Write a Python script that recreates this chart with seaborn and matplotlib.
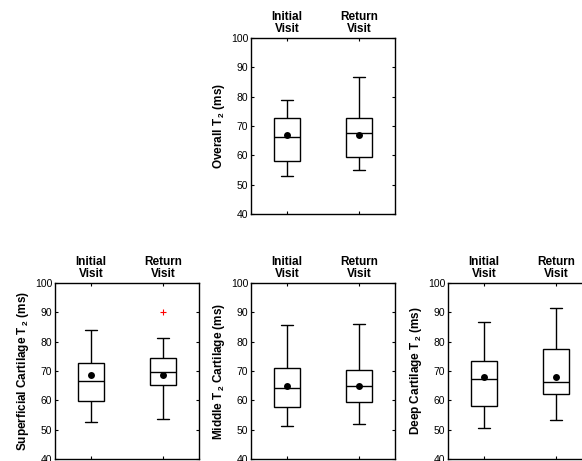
import numpy as np
import pandas as pd
import matplotlib.pyplot as plt
import seaborn as sns

visits = ["Initial\nVisit", "Return\nVisit"]

# five-number summaries per panel: [initial, return]
overall_lo = [53.1, 55.0]
overall_q1 = [57.9, 59.4]
overall_med = [66.2, 67.7]
overall_q3 = [72.7, 72.6]
overall_hi = [79.0, 86.7]
overall_mean = [66.8, 66.8]
overall_out = [[], []]

superficial_lo = [52.5, 53.8]
superficial_q1 = [59.8, 65.3]
superficial_med = [66.7, 69.8]
superficial_q3 = [72.7, 74.6]
superficial_hi = [84.0, 81.3]
superficial_mean = [68.6, 68.6]
superficial_out = [[], [90.1]]

middle_lo = [51.1, 51.8]
middle_q1 = [57.6, 59.5]
middle_med = [64.1, 65.0]
middle_q3 = [71.1, 70.3]
middle_hi = [85.8, 86.0]
middle_mean = [65.0, 65.0]
middle_out = [[], []]

deep_lo = [50.4, 53.3]
deep_q1 = [58.1, 62.3]
deep_med = [67.4, 66.4]
deep_q3 = [73.4, 77.5]
deep_hi = [86.6, 91.6]
deep_mean = [67.8, 67.8]
deep_out = [[], []]

panels = [
    ("Overall T$_{\\,\\mathbf{2}}$ (ms)", overall_lo, overall_q1, overall_med, overall_q3, overall_hi, overall_mean, overall_out),
    ("Superficial Cartilage T$_{\\,\\mathbf{2}}$ (ms)", superficial_lo, superficial_q1, superficial_med, superficial_q3, superficial_hi, superficial_mean, superficial_out),
    ("Middle T$_{\\,\\mathbf{2}}$ Cartilage (ms)", middle_lo, middle_q1, middle_med, middle_q3, middle_hi, middle_mean, middle_out),
    ("Deep Cartilage T$_{\\,\\mathbf{2}}$ (ms)", deep_lo, deep_q1, deep_med, deep_q3, deep_hi, deep_mean, deep_out),
]

sns.set_style("white")
plt.rcParams["font.family"] = ["Liberation Sans", "DejaVu Sans"]
plt.rcParams["mathtext.fontset"] = "custom"
plt.rcParams["mathtext.rm"] = "Liberation Sans"
plt.rcParams["mathtext.bf"] = "Liberation Sans:bold"
plt.rcParams["text.color"] = "black"
plt.rcParams["axes.labelcolor"] = "black"
plt.rcParams["xtick.color"] = "black"
plt.rcParams["ytick.color"] = "black"

fig = plt.figure(figsize=(5.82, 4.61), dpi=100)
W, H = 582, 461
rects = [(251, 38), (55, 283), (251, 283), (448, 283)]
aw, ah = 144, 176

for (label, lo, q1, med, q3, hi, means, outs), (x0, y0) in zip(panels, rects):
    ax = fig.add_axes([x0 / W, 1 - (y0 + ah) / H, aw / W, ah / H])
    rows = []
    for i, v in enumerate(visits):
        for val in (lo[i], q1[i], med[i], q3[i], hi[i]):
            rows.append({"visit": v, "t2": val})
    df = pd.DataFrame(rows)
    sns.boxplot(data=df, x="visit", y="t2", order=visits, ax=ax, whis=np.inf,
                width=0.35, color="white", linecolor="black", linewidth=1.0,
                fliersize=0)
    sns.stripplot(x=visits, y=means, order=visits, ax=ax, jitter=False,
                  color="black", size=5, zorder=5)
    ox = [v for v, o in zip(visits, outs) for _ in o]
    oy = [val for o in outs for val in o]
    if oy:
        sns.stripplot(x=ox, y=oy, order=visits, ax=ax, jitter=False,
                      color="red", marker="+", size=5, linewidth=0.8, zorder=5)
    ax.set_xlim(-0.5, 1.5)
    ax.set_ylim(40, 100)
    ax.set_yticks(range(40, 101, 10))
    ax.set_xlabel("")
    ax.set_ylabel(label, fontsize=8.5, fontweight="bold", labelpad=3)
    ax.tick_params(direction="in", top=True, bottom=True, left=True, right=True,
                   labeltop=True, labelbottom=False, length=2.5, width=0.8,
                   labelsize=7.5, pad=2)
    ax.tick_params(axis="x", labelsize=8.5)
    for t in ax.get_xticklabels():
        t.set_fontweight("bold")
        t.set_linespacing(1.05)
    for s in ax.spines.values():
        s.set_visible(True)
        s.set_color("black")
        s.set_linewidth(1.0)

fig.savefig("out.png", dpi=100)
